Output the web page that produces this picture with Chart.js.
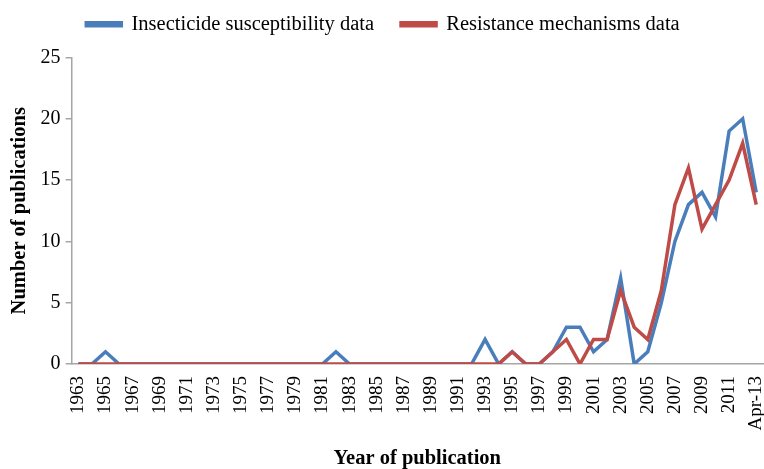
<!DOCTYPE html>
<html>
<head>
<meta charset="utf-8">
<script src="https://cdn.jsdelivr.net/npm/chart.js@4.4.1/dist/chart.umd.min.js"></script>
<style>
  html, body { margin: 0; padding: 0; background: #fff; }
  #wrap { width: 764px; height: 469px; }
</style>
</head>
<body>
<div id="wrap"><canvas id="chart" width="764" height="469"></canvas></div>
<script>
// publication years, 1963 .. 2012, then the partial year
const YEARS = [
  '1963','1964','1965','1966','1967','1968','1969','1970','1971','1972',
  '1973','1974','1975','1976','1977','1978','1979','1980','1981','1982',
  '1983','1984','1985','1986','1987','1988','1989','1990','1991','1992',
  '1993','1994','1995','1996','1997','1998','1999','2000','2001','2002',
  '2003','2004','2005','2006','2007','2008','2009','2010','2011','2012',
  'Apr-13'
];

const SUSCEPTIBILITY = [
  0,0,1,0,0,0,0,0,0,0,
  0,0,0,0,0,0,0,0,0,1,
  0,0,0,0,0,0,0,0,0,0,
  2,0,1,0,0,1,3,3,1,2,
  7,0,1,5,10,13,14,12,19,20,
  14
];

const MECHANISMS = [
  0,0,0,0,0,0,0,0,0,0,
  0,0,0,0,0,0,0,0,0,0,
  0,0,0,0,0,0,0,0,0,0,
  0,0,1,0,0,1,2,0,2,2,
  6,3,2,6,13,16,11,13,15,18,
  13
];

const Y_MIN = 0, Y_MAX = 25, Y_STEP = 5;

const COLORS = {
  blue: '#4a7ebb',
  red:  '#be4b48',
  axis: '#a6a6a6',
  text: '#000000'
};

const SERIF = "'Liberation Serif', 'Times New Roman', serif";

// leave some air between the legend and the plot
const legendGap = {
  id: 'legendGap',
  beforeInit(chart) {
    const fit = chart.legend.fit;
    chart.legend.fit = function () {
      fit.call(this);
      this.height += 13;
    };
  }
};

new Chart(document.getElementById('chart'), {
  type: 'line',
  data: {
    labels: YEARS,
    datasets: [
      {
        label: 'Insecticide susceptibility data',
        data: SUSCEPTIBILITY,
        borderColor: COLORS.blue,
        backgroundColor: COLORS.blue,
        borderWidth: 3.5,
        pointRadius: 0,
        tension: 0,
        order: 1
      },
      {
        label: 'Resistance mechanisms data',
        data: MECHANISMS,
        borderColor: COLORS.red,
        backgroundColor: COLORS.red,
        borderWidth: 3.5,
        pointRadius: 0,
        tension: 0,
        order: 0   // red sits on top of blue
      }
    ]
  },
  plugins: [legendGap],
  options: {
    responsive: false,
    animation: false,
    devicePixelRatio: 1,
    layout: { padding: { left: 3, right: 1, top: -13, bottom: 0 } },
    plugins: {
      legend: {
        position: 'top',
        labels: {
          font: { family: SERIF, size: 20.5 },
          color: COLORS.text,
          boxWidth: 35,
          boxHeight: 3,
          padding: 27,
          sort: (a, b) => a.datasetIndex - b.datasetIndex
        }
      },
      tooltip: { enabled: false }
    },
    scales: {
      x: {
        offset: true,
        // let the plot run to the right edge, the last label is narrow
        afterFit: (scale) => { scale.paddingRight = 0; },
        grid: { display: false, drawTicks: false },
        border: { display: true, color: COLORS.axis, width: 1.5 },
        ticks: {
          autoSkip: false,
          minRotation: 90,
          maxRotation: 90,
          padding: 12,
          color: COLORS.text,
          font: { family: SERIF, size: 19 },
          callback: function (val, i) {
            return i % 2 === 0 ? this.getLabelForValue(val) : '';
          }
        },
        title: {
          display: true,
          text: 'Year of publication',
          color: COLORS.text,
          font: { family: SERIF, size: 20.5, weight: 'bold', lineHeight: 1 },
          padding: { top: 6, bottom: 0 }
        }
      },
      y: {
        min: Y_MIN,
        max: Y_MAX,
        grid: {
          display: true,
          drawOnChartArea: false,
          drawTicks: true,
          tickLength: 6,
          color: COLORS.axis,
          lineWidth: 1.5
        },
        border: { display: true, color: COLORS.axis, width: 1.5 },
        ticks: {
          stepSize: Y_STEP,
          padding: 5,
          color: COLORS.text,
          font: { family: SERIF, size: 20 }
        },
        title: {
          display: true,
          text: 'Number of publications',
          color: COLORS.text,
          font: { family: SERIF, size: 20.5, weight: 'bold' },
          padding: { top: 4, bottom: 4 }
        }
      }
    }
  }
});
</script>
</body>
</html>
